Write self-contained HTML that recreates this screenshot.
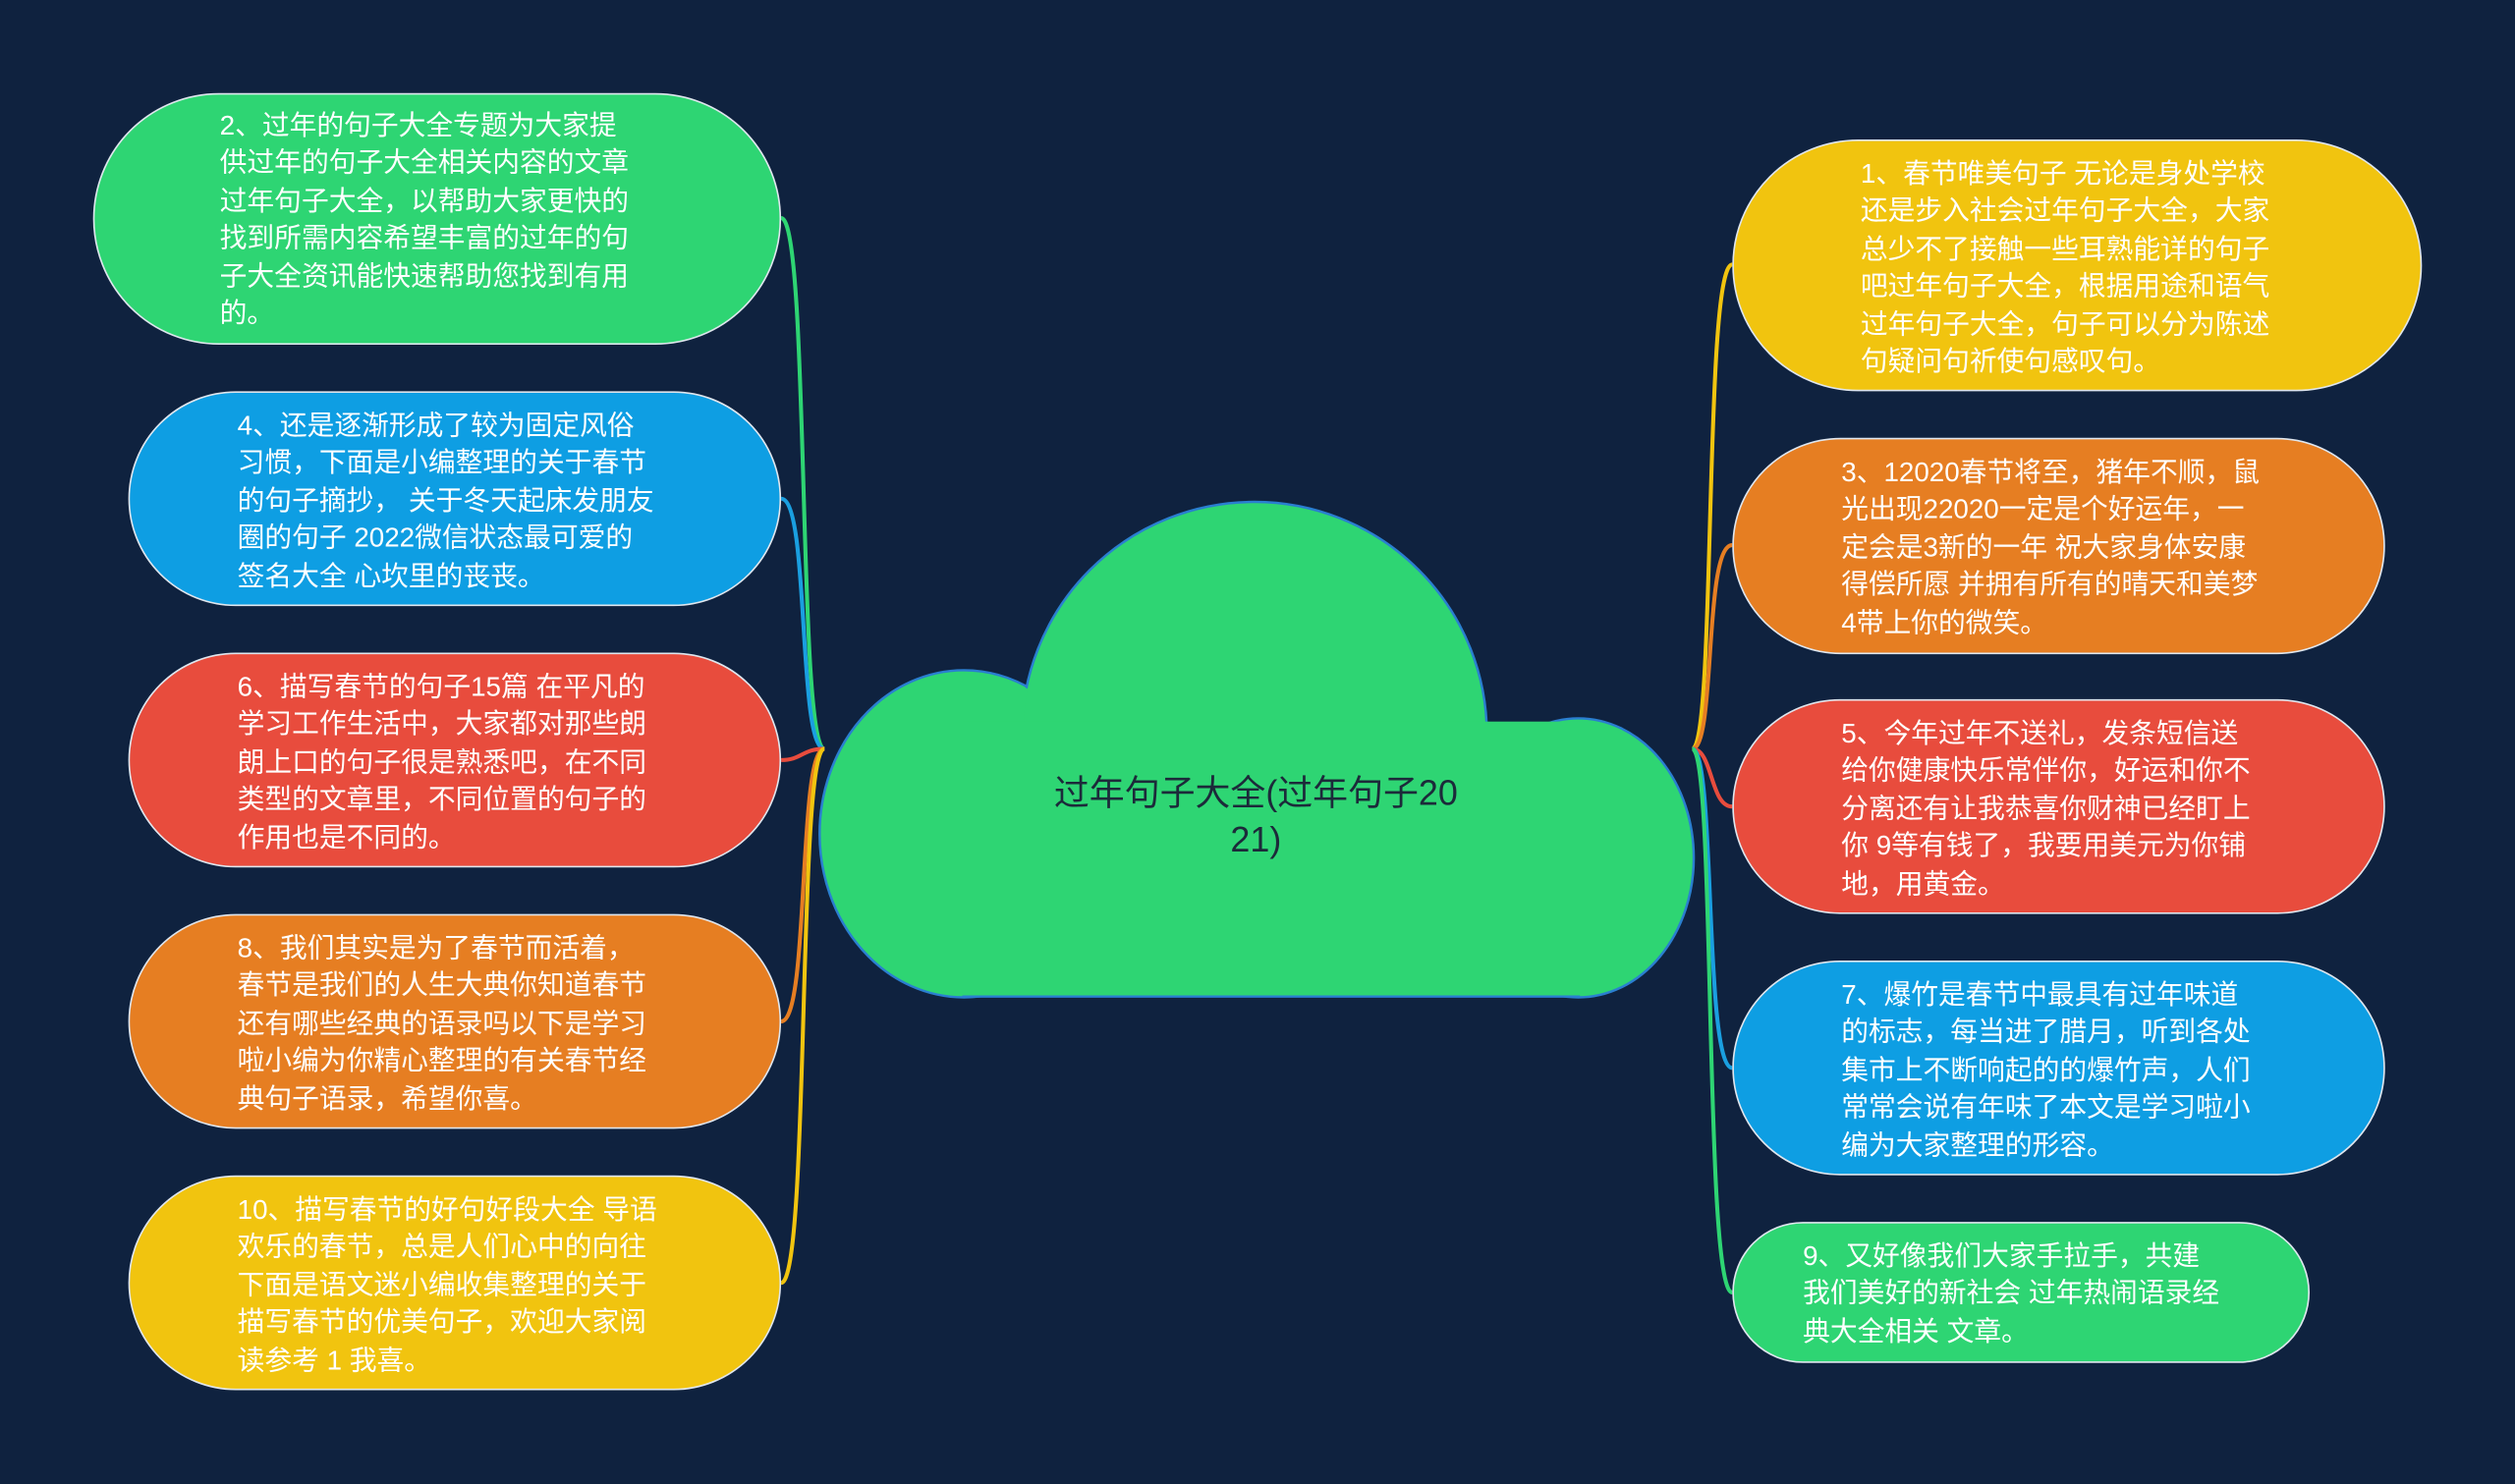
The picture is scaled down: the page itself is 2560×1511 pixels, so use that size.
<!DOCTYPE html>
<html><head><meta charset="utf-8"><style>
html,body{margin:0;padding:0;background:#0f223f;}
#wrap{position:relative;width:1568px;height:925px;transform:scale(1.632653);transform-origin:0 0;background:#0f223f;overflow:hidden;font-family:"Liberation Sans","Noto Sans CJK SC",sans-serif;}
.n{position:absolute;box-sizing:border-box;border:1.5px solid #dfe6ee;border-radius:80px;color:#fff;font-size:17px;line-height:23.4px;}
.n div{position:absolute;}
svg{position:absolute;left:0;top:0;}
</style></head><body><div id="wrap">
<svg width="1568" height="925" viewBox="0 0 1568 925">
<g fill="none" stroke-width="2.5">
<path d="M487 136 C505 136,497 467,514 467" stroke="#2ed573"/>
<path d="M487 311 C505 311,497 467,514 467" stroke="#1a9fe0"/>
<path d="M487 474 C500 474,500 467,514 467" stroke="#e84c3d"/>
<path d="M487 637 C505 637,497 467,514 467" stroke="#e67e22"/>
<path d="M487 800 C505 800,497 467,514 467" stroke="#f1c40f"/>
<path d="M1080 165 C1062 165,1070 467,1055 467" stroke="#f1c40f"/>
<path d="M1080 340 C1062 340,1070 467,1055 467" stroke="#e67e22"/>
<path d="M1080 503 C1066 503,1068 467,1055 467" stroke="#e84c3d"/>
<path d="M1080 666 C1062 666,1070 467,1055 467" stroke="#1a9fe0"/>
<path d="M1080 806 C1062 806,1070 467,1055 467" stroke="#2ed573"/>
</g>
<g fill="#2ed573" stroke="#2a7fd0" stroke-width="1.5">
<ellipse cx="601" cy="520" rx="90" ry="102"/>
<circle cx="782" cy="458" r="145"/>
<ellipse cx="984" cy="535" rx="72" ry="87"/>
</g>
<g fill="#2ed573">
<ellipse cx="601" cy="520" rx="89" ry="101"/>
<circle cx="782" cy="458" r="144"/>
<ellipse cx="984" cy="535" rx="71" ry="86"/>
<rect x="600" y="450" width="385" height="171"/>
</g>
<line x1="600" y1="621.5" x2="985" y2="621.5" stroke="#2a7fd0" stroke-width="1.5"/>
<text x="783" y="502" font-size="22" fill="#1c2a3a" text-anchor="middle" font-family="Liberation Sans,Noto Sans CJK SC,sans-serif">过年句子大全(过年句子20</text>
<text x="783" y="531" font-size="22" fill="#1c2a3a" text-anchor="middle" font-family="Liberation Sans,Noto Sans CJK SC,sans-serif">21)</text>
</svg>

<div class="n" style="left:58px;top:58px;width:429px;height:157px;background:#2ed573"><div style="left:78px;top:8px">2、过年的句子大全专题为大家提<br>供过年的句子大全相关内容的文章<br>过年句子大全，以帮助大家更快的<br>找到所需内容希望丰富的过年的句<br>子大全资讯能快速帮助您找到有用<br>的。</div></div>
<div class="n" style="left:80px;top:244px;width:407px;height:134px;background:#0e9ee3"><div style="left:67px;top:9px">4、还是逐渐形成了较为固定风俗<br>习惯，下面是小编整理的关于春节<br>的句子摘抄， 关于冬天起床发朋友<br>圈的句子 2022微信状态最可爱的<br>签名大全 心坎里的丧丧。</div></div>
<div class="n" style="left:80px;top:407px;width:407px;height:134px;background:#e84c3d"><div style="left:67px;top:9px">6、描写春节的句子15篇 在平凡的<br>学习工作生活中，大家都对那些朗<br>朗上口的句子很是熟悉吧，在不同<br>类型的文章里，不同位置的句子的<br>作用也是不同的。</div></div>
<div class="n" style="left:80px;top:570px;width:407px;height:134px;background:#e67e22"><div style="left:67px;top:9px">8、我们其实是为了春节而活着，<br>春节是我们的人生大典你知道春节<br>还有哪些经典的语录吗以下是学习<br>啦小编为你精心整理的有关春节经<br>典句子语录，希望你喜。</div></div>
<div class="n" style="left:80px;top:733px;width:407px;height:134px;background:#f1c40f"><div style="left:67px;top:9px">10、描写春节的好句好段大全 导语<br>欢乐的春节，总是人们心中的向往<br>下面是语文迷小编收集整理的关于<br>描写春节的优美句子，欢迎大家阅<br>读参考 1 我喜。</div></div>

<div class="n" style="left:1080px;top:87px;width:430px;height:157px;background:#f1c40f"><div style="left:79px;top:9px">1、春节唯美句子 无论是身处学校<br>还是步入社会过年句子大全，大家<br>总少不了接触一些耳熟能详的句子<br>吧过年句子大全，根据用途和语气<br>过年句子大全，句子可以分为陈述<br>句疑问句祈使句感叹句。</div></div>
<div class="n" style="left:1080px;top:273px;width:407px;height:135px;background:#e67e22"><div style="left:67px;top:9px">3、12020春节将至，猪年不顺，鼠<br>光出现22020一定是个好运年，一<br>定会是3新的一年 祝大家身体安康<br>得偿所愿 并拥有所有的晴天和美梦<br>4带上你的微笑。</div></div>
<div class="n" style="left:1080px;top:436px;width:407px;height:134px;background:#e84c3d"><div style="left:67px;top:9px">5、今年过年不送礼，发条短信送<br>给你健康快乐常伴你，好运和你不<br>分离还有让我恭喜你财神已经盯上<br>你 9等有钱了，我要用美元为你铺<br>地，用黄金。</div></div>
<div class="n" style="left:1080px;top:599px;width:407px;height:134px;background:#0e9ee3"><div style="left:67px;top:9px">7、爆竹是春节中最具有过年味道<br>的标志，每当进了腊月，听到各处<br>集市上不断响起的的爆竹声，人们<br>常常会说有年味了本文是学习啦小<br>编为大家整理的形容。</div></div>
<div class="n" style="left:1080px;top:762px;width:360px;height:88px;background:#2ed573"><div style="left:43px;top:9px">9、又好像我们大家手拉手，共建<br>我们美好的新社会 过年热闹语录经<br>典大全相关 文章。</div></div>
</div></body></html>
